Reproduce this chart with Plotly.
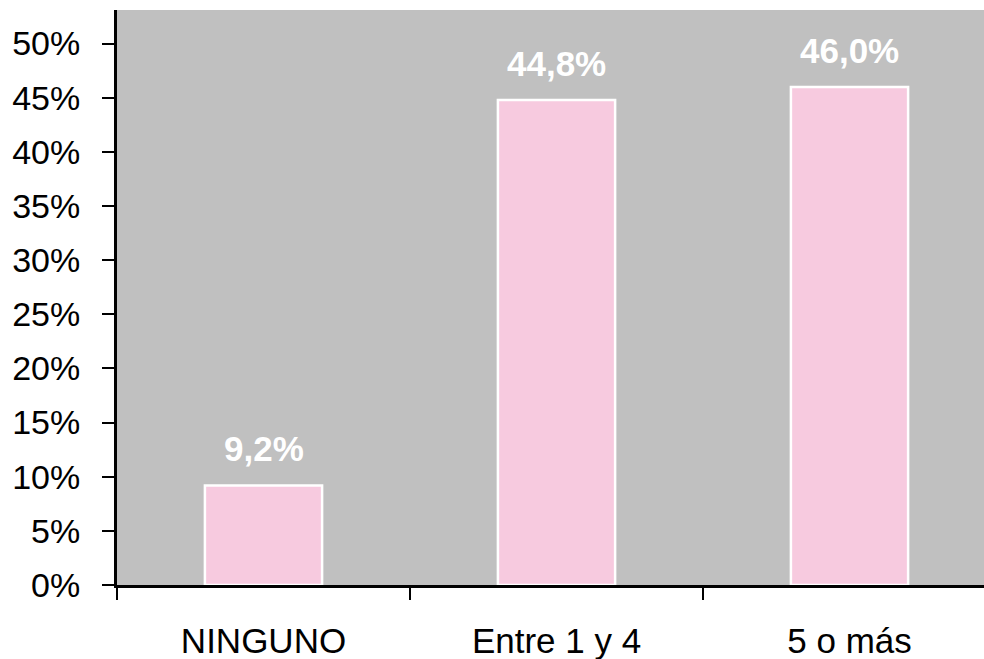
import plotly.graph_objects as go

# Number of items per respondent group
categories = ["NINGUNO", "Entre 1 y 4", "5 o más"]
values = [9.2, 44.8, 46.0]
y_ticks = [0, 5, 10, 15, 20, 25, 30, 35, 40, 45, 50]
y_tick_labels = [f"{v}%" for v in y_ticks]

FONT = "Liberation Sans, Arial, sans-serif"

fig = go.Figure(
    go.Bar(
        x=categories,
        y=values,
        width=0.4,
        marker=dict(color="#F7CADF", line=dict(color="white", width=2.5)),
    )
)

for cat, val in zip(categories, values):
    fig.add_annotation(
        x=cat, y=val,
        text=f"{val:.1f}%".replace(".", ","),
        showarrow=False,
        yanchor="bottom",
        yshift=15,
        font=dict(family=FONT, size=35, color="white", weight="bold"),
    )

fig.update_layout(
    width=984,
    height=659,
    margin=dict(l=117, r=0, t=10, b=74),
    paper_bgcolor="white",
    plot_bgcolor="#C0C0C0",
    showlegend=False,
    font=dict(family=FONT, size=34, color="black"),
    bargap=0.6,
)

fig.update_xaxes(
    type="category",
    range=[-0.5, 2.459],
    tickson="boundaries",
    ticks="outside",
    ticklen=12,
    tickwidth=2,
    tickcolor="black",
    showline=True,
    linecolor="black",
    linewidth=3,
    showgrid=False,
    ticklabelstandoff=23,
    tickfont=dict(family=FONT, size=35),
)

fig.update_yaxes(
    range=[0, 53.1],
    tickvals=y_ticks,
    ticktext=y_tick_labels,
    ticks="outside",
    ticklen=12,
    tickwidth=2,
    tickcolor="black",
    showline=True,
    linecolor="black",
    linewidth=3,
    showgrid=False,
    zeroline=False,
    ticklabelstandoff=15,
    tickfont=dict(family=FONT, size=34),
)

fig.write_html("out.html")
